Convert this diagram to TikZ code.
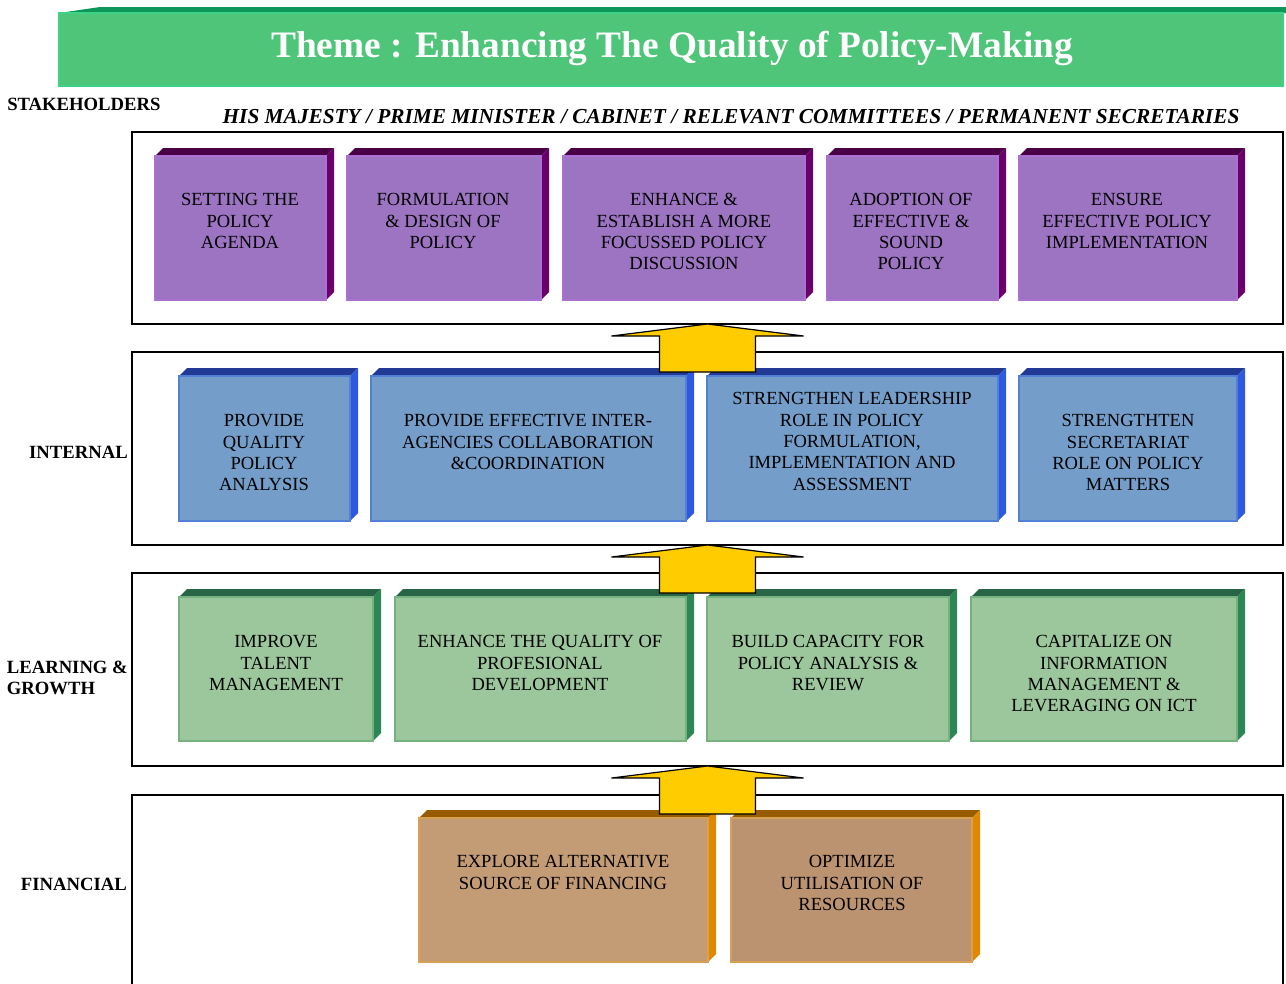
\documentclass[tikz,border=0pt]{standalone}
\usepackage{fontspec}
\setmainfont{Liberation Serif}
\usetikzlibrary{positioning,calc}

\definecolor{bannerfront}{RGB}{79,197,122}
\definecolor{bannertop}{RGB}{12,150,88}
\definecolor{banneredge}{RGB}{60,210,135}
\definecolor{purplefront}{RGB}{156,116,194}
\definecolor{purpletop}{RGB}{74,0,70}
\definecolor{purpleside}{RGB}{106,0,106}
\definecolor{purpleedge}{RGB}{172,112,212}
\definecolor{bluefront}{RGB}{116,158,201}
\definecolor{bluetop}{RGB}{32,58,150}
\definecolor{blueside}{RGB}{45,90,225}
\definecolor{blueedge}{RGB}{82,128,215}
\definecolor{greenfront}{RGB}{156,198,155}
\definecolor{greentop}{RGB}{40,100,70}
\definecolor{greenside}{RGB}{45,135,85}
\definecolor{greenedge}{RGB}{118,178,128}
\definecolor{brownfront}{RGB}{195,155,117}
\definecolor{brownfrontb}{RGB}{188,147,112}
\definecolor{browntop}{RGB}{152,92,0}
\definecolor{brownside}{RGB}{226,136,0}
\definecolor{brownedge}{RGB}{216,160,82}
\definecolor{arrowyellow}{RGB}{255,204,0}

\tikzset{
  boxtext/.style={anchor=north, align=center, inner sep=0pt, font=\fontsize{13.9}{16.1}\selectfont},
  rowlabel/.style={anchor=east, align=left, inner sep=0pt, font=\fontsize{14}{16.1}\selectfont\bfseries},
  layer/.style={draw=black, line width=1.1pt},
  uparrow/.style={fill=arrowyellow, draw=black, line width=0.9pt, line join=miter},
}

% 3D box: colour set, x1, y1, x2, y2, front fill
\newcommand{\cuboid}[6]{%
  \fill[#1top] (#2,#3) -- (#2+8,#3-8) -- (#4+8,#3-8) -- (#4,#3) -- cycle;
  \fill[#1side] (#4,#3) -- (#4+8,#3-8) -- (#4+8,#5-8) -- (#4,#5) -- cycle;
  \draw[#1edge, fill=#6, line width=1.1pt] (#2,#3) rectangle (#4,#5);
}

\begin{document}
\begin{tikzpicture}[x=0.75pt,y=0.75pt,yscale=-1,xscale=1]
\useasboundingbox (0,0) rectangle (1286,983);

%Banner
\fill[bannertop] (59,13) -- (100,7) -- (1290,7) -- (1290,13) -- cycle;
\draw[banneredge, fill=bannerfront, line width=1.1pt] (59,13) rectangle (1283,86);
\node[text=white, inner sep=0pt, font=\fontsize{28}{32}\selectfont\bfseries] (theme) at (672,48) {Theme : Enhancing The Quality of Policy-Making};

% Row labels
\node[rowlabel, anchor=west] (stakeholders) at (7,104) {STAKEHOLDERS};
\node[inner sep=0pt, font=\fontsize{16}{18}\selectfont\bfseries\itshape] (who) at (731,117) {HIS MAJESTY / PRIME MINISTER / CABINET / RELEVANT COMMITTEES / PERMANENT SECRETARIES};
\node[rowlabel] (internal) at (128,452) {INTERNAL};
\node[rowlabel] (learning) at (128,678) {LEARNING \&\\GROWTH};
\node[rowlabel] (financial) at (127,884) {FINANCIAL};

%Layers
\draw[layer] (132,132) rectangle (1283,324);
\draw[layer] (132,352) rectangle (1283,545);
\draw[layer] (132,573) rectangle (1283,766);
\draw[layer] (132,995) -- (132,795) -- (1283,795) -- (1283,995);

%Stakeholders row
\cuboid{purple}{155}{156}{326}{300}{purplefront}
\cuboid{purple}{347}{156}{541}{300}{purplefront}
\cuboid{purple}{563}{156}{805}{300}{purplefront}
\cuboid{purple}{827}{156}{998}{300}{purplefront}
\cuboid{purple}{1019}{156}{1237}{300}{purplefront}
% Text Node
\node[boxtext] (agenda) at (240,193) {SETTING THE\\POLICY\\AGENDA};
\node[boxtext] (design) at (443,193) {FORMULATION\\\& DESIGN OF\\POLICY};
\node[boxtext] (discussion) at (684,193) {ENHANCE \&\\ESTABLISH A MORE\\FOCUSSED POLICY\\DISCUSSION};
\node[boxtext] (adoption) at (911,193) {ADOPTION OF\\EFFECTIVE \&\\SOUND\\POLICY};
\node[boxtext] (implementation) at (1127,193) {ENSURE\\EFFECTIVE POLICY\\IMPLEMENTATION};

%Internal row
\cuboid{blue}{179}{376}{350}{521}{bluefront}
\cuboid{blue}{371}{376}{686}{521}{bluefront}
\cuboid{blue}{707}{376}{998}{521}{bluefront}
\cuboid{blue}{1019}{376}{1237}{521}{bluefront}
% Text Node
\node[boxtext] (analysis) at (264,414) {PROVIDE\\QUALITY\\POLICY\\ANALYSIS};
\node[boxtext] (collaboration) at (528,414) {PROVIDE EFFECTIVE INTER-\\AGENCIES COLLABORATION\\\&COORDINATION};
\node[boxtext] (leadership) at (852,392) {STRENGTHEN LEADERSHIP\\ROLE IN POLICY\\FORMULATION,\\IMPLEMENTATION AND\\ASSESSMENT};
\node[boxtext] (secretariat) at (1128,414) {STRENGTHTEN\\SECRETARIAT\\ROLE ON POLICY\\MATTERS};

%Learning & growth row
\cuboid{green}{179}{597}{373}{741}{greenfront}
\cuboid{green}{395}{597}{686}{741}{greenfront}
\cuboid{green}{707}{597}{949}{741}{greenfront}
\cuboid{green}{971}{597}{1237}{741}{greenfront}
% Text Node
\node[boxtext] (talent) at (276,635) {IMPROVE\\TALENT\\MANAGEMENT};
\node[boxtext] (development) at (540,635) {ENHANCE THE QUALITY OF\\PROFESIONAL\\DEVELOPMENT};
\node[boxtext] (capacity) at (828,635) {BUILD CAPACITY FOR\\POLICY ANALYSIS \&\\REVIEW};
\node[boxtext] (ict) at (1104,635) {CAPITALIZE ON\\INFORMATION\\MANAGEMENT \&\\LEVERAGING ON ICT};

%Financial row
\cuboid{brown}{419}{818}{708}{962}{brownfront}
\cuboid{brown}{731}{818}{972}{962}{brownfrontb}
% Text Node
\node[boxtext] (financing) at (563,855) {EXPLORE ALTERNATIVE\\SOURCE OF FINANCING};
\node[boxtext] (resources) at (852,855) {OPTIMIZE\\UTILISATION OF\\RESOURCES};

%Arrows between layers
\coordinate (tipa) at (707.5,324);
\coordinate (tipb) at (707.5,545);
\coordinate (tipc) at (707.5,766);
\foreach \t in {tipa,tipb,tipc}
  \draw[uparrow] (\t) -- ++(96,12) -- ++(-48,0) -- ++(0,36) -- ++(-96,0) -- ++(0,-36) -- ++(-48,0) -- cycle;
\end{tikzpicture}
\end{document}
